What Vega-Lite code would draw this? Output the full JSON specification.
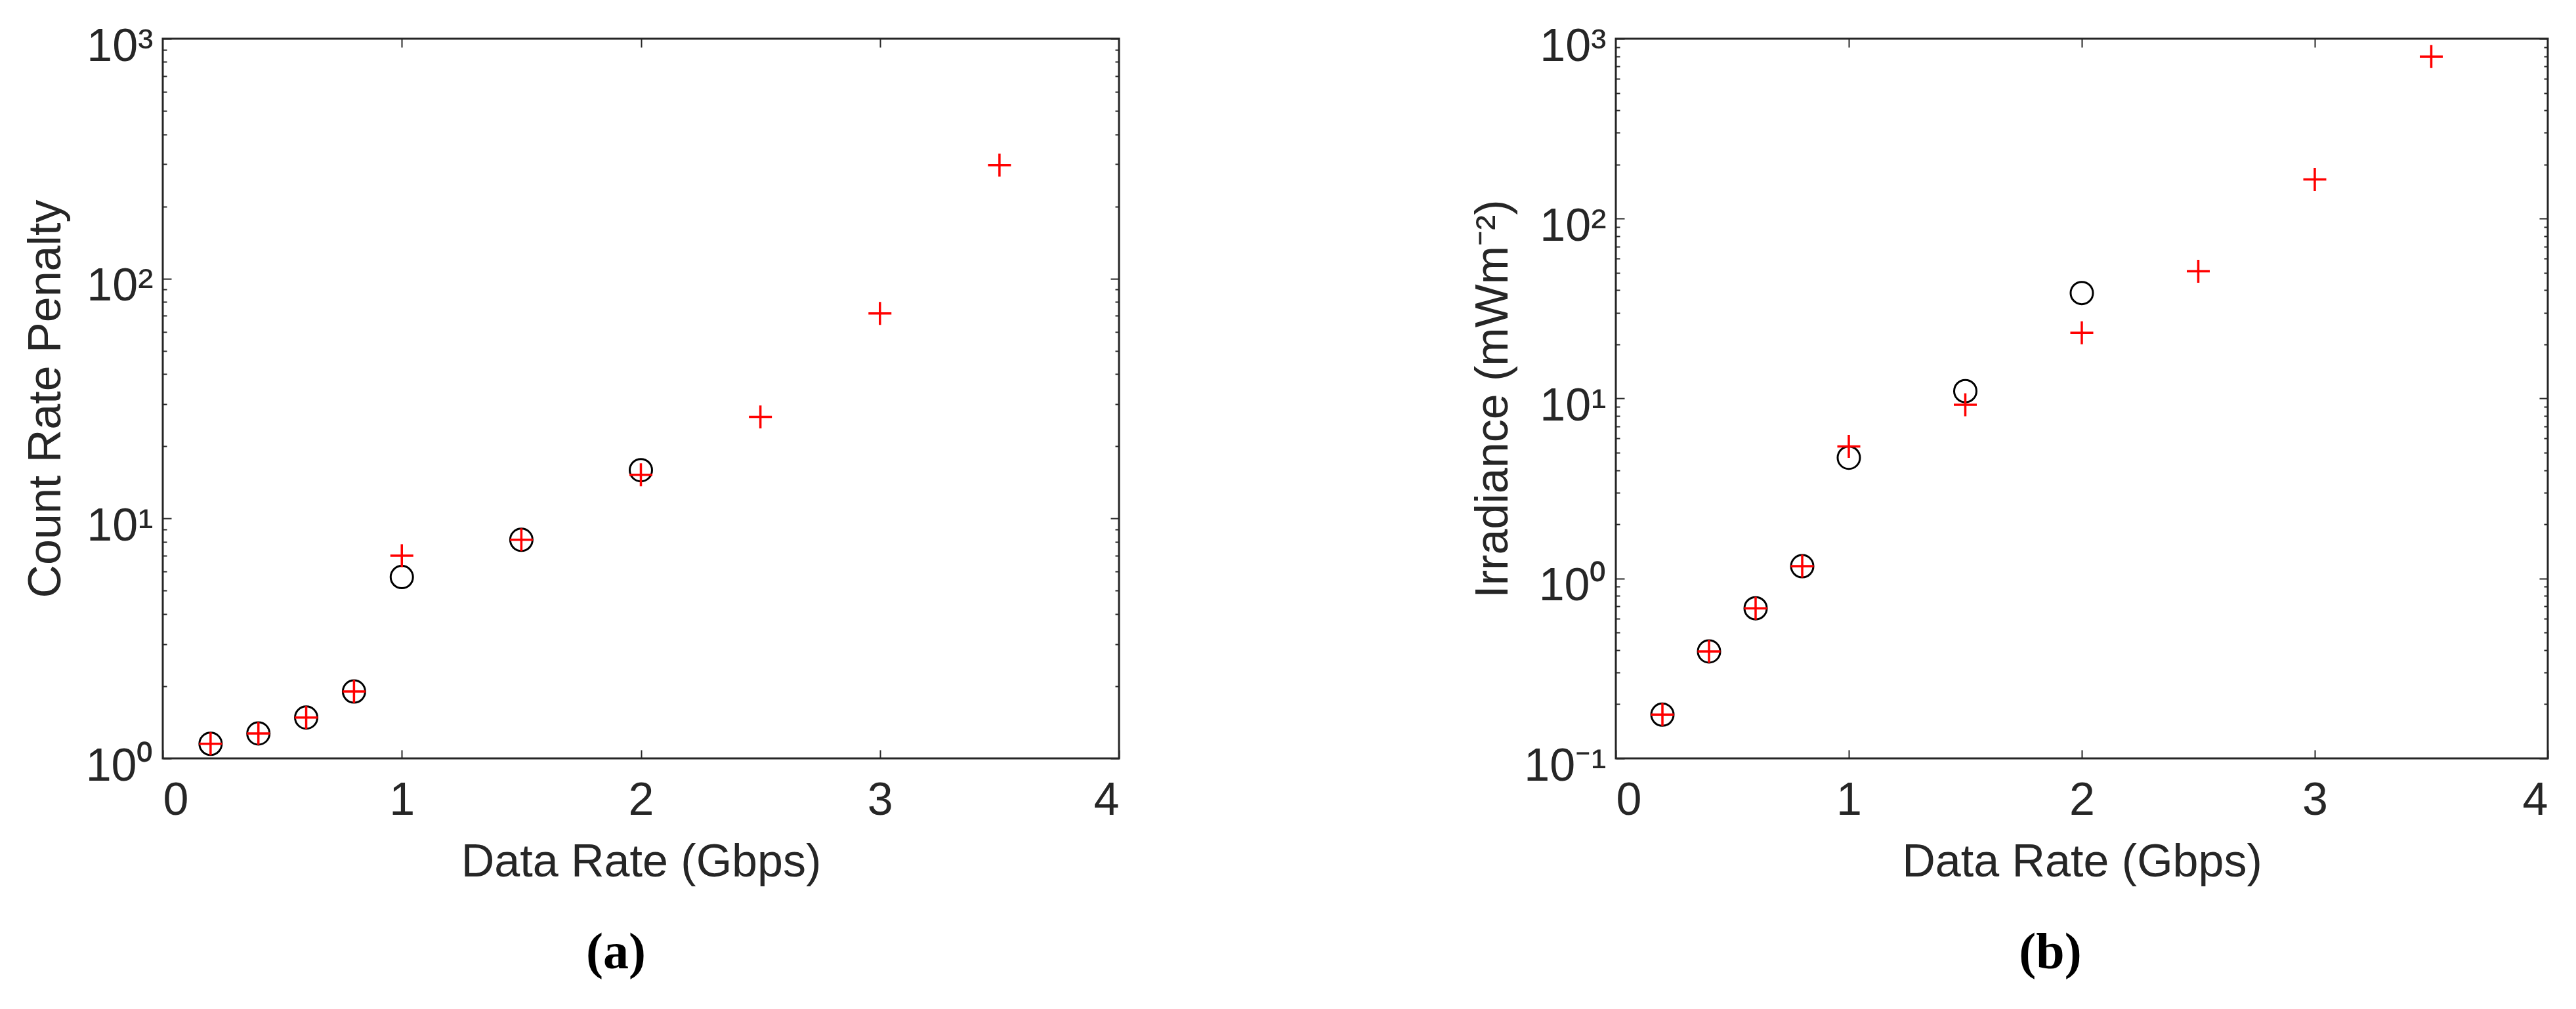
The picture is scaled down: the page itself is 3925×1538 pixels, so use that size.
{
  "$schema": "https://vega.github.io/schema/vega-lite/v6.json",
  "background": "white",
  "autosize": {"type": "pad"},
  "padding": {"left": 33, "top": 34, "right": 0, "bottom": 0},
  "datasets": {
    "a": [
      {"series": "measured", "rate": 0.2, "value": 1.15},
      {"series": "measured", "rate": 0.4, "value": 1.27},
      {"series": "measured", "rate": 0.6, "value": 1.48},
      {"series": "measured", "rate": 0.8, "value": 1.9},
      {"series": "measured", "rate": 1.0, "value": 5.7},
      {"series": "measured", "rate": 1.5, "value": 8.15},
      {"series": "measured", "rate": 2.0, "value": 15.9},
      {"series": "model", "rate": 0.2, "value": 1.15},
      {"series": "model", "rate": 0.4, "value": 1.27},
      {"series": "model", "rate": 0.6, "value": 1.48},
      {"series": "model", "rate": 0.8, "value": 1.9},
      {"series": "model", "rate": 1.0, "value": 7.0},
      {"series": "model", "rate": 1.5, "value": 8.15},
      {"series": "model", "rate": 2.0, "value": 15.2},
      {"series": "model", "rate": 2.5, "value": 26.5},
      {"series": "model", "rate": 3.0, "value": 71.6},
      {"series": "model", "rate": 3.5, "value": 297}
    ],
    "b": [
      {"series": "measured", "rate": 0.2, "value": 0.175},
      {"series": "measured", "rate": 0.4, "value": 0.393},
      {"series": "measured", "rate": 0.6, "value": 0.683},
      {"series": "measured", "rate": 0.8, "value": 1.17},
      {"series": "measured", "rate": 1.0, "value": 4.69},
      {"series": "measured", "rate": 1.5, "value": 11.0},
      {"series": "measured", "rate": 2.0, "value": 38.6},
      {"series": "model", "rate": 0.2, "value": 0.175},
      {"series": "model", "rate": 0.4, "value": 0.393},
      {"series": "model", "rate": 0.6, "value": 0.683},
      {"series": "model", "rate": 0.8, "value": 1.17},
      {"series": "model", "rate": 1.0, "value": 5.42},
      {"series": "model", "rate": 1.5, "value": 9.23},
      {"series": "model", "rate": 2.0, "value": 23.2},
      {"series": "model", "rate": 2.5, "value": 51.0},
      {"series": "model", "rate": 3.0, "value": 165},
      {"series": "model", "rate": 3.5, "value": 796}
    ]
  },
  "config": {
    "font": "Liberation Sans",
    "view": {"stroke": "#262626", "strokeWidth": 3},
    "axis": {
      "labelFont": "Liberation Sans", "labelFontSize": 70, "labelColor": "#262626",
      "titleFont": "Liberation Sans", "titleFontSize": 70, "titleFontWeight": "normal", "titleColor": "#262626",
      "tickColor": "#262626", "tickWidth": 2, "domain": false, "grid": false
    },
    "title": {"font": "Liberation Serif", "fontSize": 78, "fontWeight": "bold", "color": "#000000"}
  },
  "spacing": 531,
  "hconcat": [
    {
      "width": 1457, "height": 1097,
      "title": {"text": "(a)", "orient": "bottom", "frame": "group", "dx": -38, "offset": 65},
      "resolve": {"axis": {"x": "independent", "y": "independent"}},
      "layer": [
        {
          "data": {"name": "a"},
          "transform": [{"filter": "datum.series == 'measured'"}],
          "mark": {"type": "point", "shape": "circle", "size": 1156, "strokeWidth": 3, "color": "#000000", "filled": false, "opacity": 1},
          "encoding": {
            "x": {"field": "rate", "type": "quantitative", "scale": {"domain": [0, 4], "nice": false, "zero": false},
              "axis": {"orient": "bottom", "values": [0, 1, 2, 3, 4], "tickSize": -13, "labelPadding": 43, "title": "Data Rate (Gbps)", "titlePadding": 25}},
            "y": {"field": "value", "type": "quantitative", "scale": {"type": "log", "domain": [1, 1000], "nice": false},
              "axis": {"orient": "left", "values": [1, 10, 100, 1000], "tickSize": -13, "labelPadding": 28, "labelOffset": 12,
                "labelExpr": "'10' + ['⁻¹','⁰','¹','²','³'][round(log(datum.value)/LN10)+1]",
                "title": "Count Rate Penalty", "titlePadding": 24}}
          }
        },
        {
          "data": {"name": "a"},
          "transform": [{"filter": "datum.series == 'model'"}],
          "mark": {"type": "point", "shape": "M-1,0L1,0M0,-1L0,1", "size": 1225, "strokeWidth": 3.5, "color": "#ff0000", "filled": false, "opacity": 1},
          "encoding": {
            "x": {"field": "rate", "type": "quantitative",
              "axis": {"orient": "top", "values": [1, 2, 3], "tickSize": -13, "labels": false, "title": null}},
            "y": {"field": "value", "type": "quantitative",
              "axis": {"orient": "right", "values": [1, 10, 100, 1000], "tickSize": -13, "labels": false, "title": null}}
          }
        },
        {
          "data": {"name": "a"},
          "mark": {"type": "point", "opacity": 0},
          "encoding": {
            "x": {"field": "rate", "type": "quantitative", "axis": null},
            "y": {"field": "value", "type": "quantitative",
              "axis": {"orient": "left", "values": [2,3,4,5,6,7,8,9,20,30,40,50,60,70,80,90,200,300,400,500,600,700,800,900], "tickSize": -6, "labels": false, "title": null}}
          }
        },
        {
          "data": {"name": "a"},
          "mark": {"type": "point", "opacity": 0},
          "encoding": {
            "x": {"field": "rate", "type": "quantitative", "axis": null},
            "y": {"field": "value", "type": "quantitative",
              "axis": {"orient": "right", "values": [2,3,4,5,6,7,8,9,20,30,40,50,60,70,80,90,200,300,400,500,600,700,800,900], "tickSize": -6, "labels": false, "title": null}}
          }
        }
      ]
    },
    {
      "width": 1420, "height": 1097,
      "title": {"text": "(b)", "orient": "bottom", "frame": "group", "dx": -48, "offset": 65},
      "resolve": {"axis": {"x": "independent", "y": "independent"}},
      "layer": [
        {
          "data": {"name": "b"},
          "transform": [{"filter": "datum.series == 'measured'"}],
          "mark": {"type": "point", "shape": "circle", "size": 1156, "strokeWidth": 3, "color": "#000000", "filled": false, "opacity": 1},
          "encoding": {
            "x": {"field": "rate", "type": "quantitative", "scale": {"domain": [0, 4], "nice": false, "zero": false},
              "axis": {"orient": "bottom", "values": [0, 1, 2, 3, 4], "tickSize": -13, "labelPadding": 43, "title": "Data Rate (Gbps)", "titlePadding": 25}},
            "y": {"field": "value", "type": "quantitative", "scale": {"type": "log", "domain": [0.1, 1000], "nice": false},
              "axis": {"orient": "left", "values": [0.1, 1, 10, 100, 1000], "tickSize": -13, "labelPadding": 28, "labelOffset": 12,
                "labelExpr": "'10' + ['⁻¹','⁰','¹','²','³'][round(log(datum.value)/LN10)+1]",
                "title": "Irradiance (mWm⁻²)", "titlePadding": 10}}
          }
        },
        {
          "data": {"name": "b"},
          "transform": [{"filter": "datum.series == 'model'"}],
          "mark": {"type": "point", "shape": "M-1,0L1,0M0,-1L0,1", "size": 1225, "strokeWidth": 3.5, "color": "#ff0000", "filled": false, "opacity": 1},
          "encoding": {
            "x": {"field": "rate", "type": "quantitative",
              "axis": {"orient": "top", "values": [1, 2, 3], "tickSize": -13, "labels": false, "title": null}},
            "y": {"field": "value", "type": "quantitative",
              "axis": {"orient": "right", "values": [0.1, 1, 10, 100, 1000], "tickSize": -13, "labels": false, "title": null}}
          }
        },
        {
          "data": {"name": "b"},
          "mark": {"type": "point", "opacity": 0},
          "encoding": {
            "x": {"field": "rate", "type": "quantitative", "axis": null},
            "y": {"field": "value", "type": "quantitative",
              "axis": {"orient": "left", "values": [0.2,0.3,0.4,0.5,0.6,0.7,0.8,0.9,2,3,4,5,6,7,8,9,20,30,40,50,60,70,80,90,200,300,400,500,600,700,800,900], "tickSize": -6, "labels": false, "title": null}}
          }
        },
        {
          "data": {"name": "b"},
          "mark": {"type": "point", "opacity": 0},
          "encoding": {
            "x": {"field": "rate", "type": "quantitative", "axis": null},
            "y": {"field": "value", "type": "quantitative",
              "axis": {"orient": "right", "values": [0.2,0.3,0.4,0.5,0.6,0.7,0.8,0.9,2,3,4,5,6,7,8,9,20,30,40,50,60,70,80,90,200,300,400,500,600,700,800,900], "tickSize": -6, "labels": false, "title": null}}
          }
        }
      ]
    }
  ]
}
